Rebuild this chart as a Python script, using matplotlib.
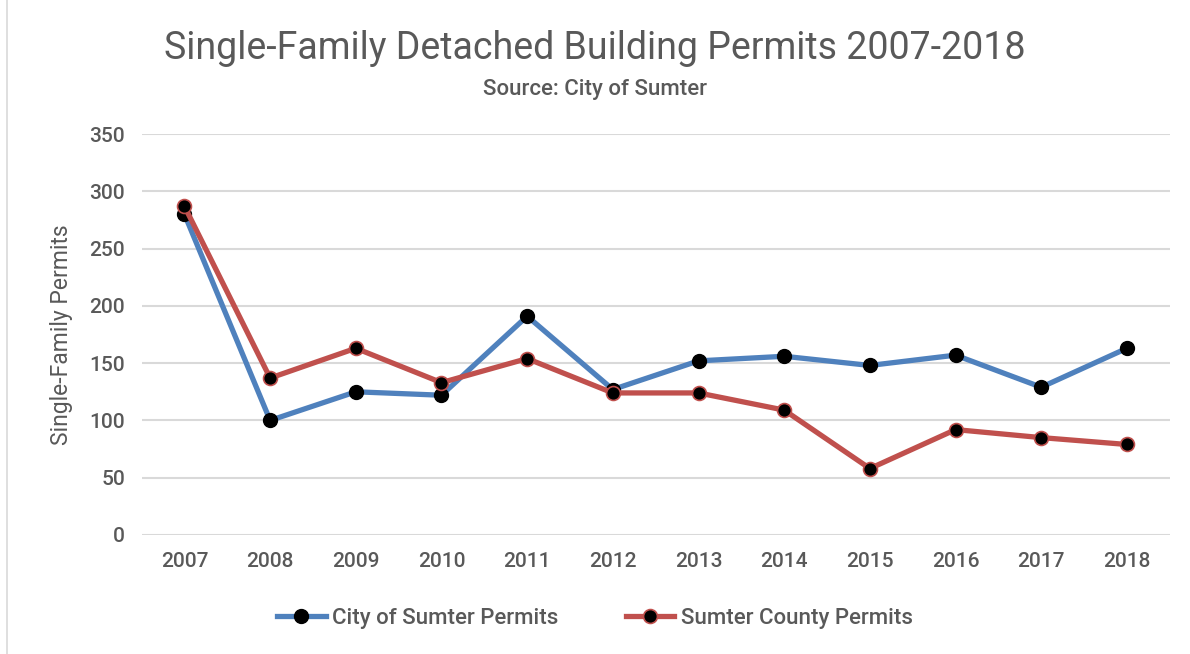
import matplotlib
matplotlib.use('Agg')
from matplotlib import pyplot as plt
from matplotlib.patches import Rectangle

years = ['2007', '2008', '2009', '2010', '2011', '2012',
         '2013', '2014', '2015', '2016', '2017', '2018']
city_permits = [280, 100, 125, 122, 191, 127, 152, 156, 148, 157, 129, 163]
county_permits = [287, 137, 163, 133, 154, 124, 124, 109, 58, 92, 85, 79]
y_ticks = [0, 50, 100, 150, 200, 250, 300, 350]

plt.rcParams['font.family'] = ['Roboto', 'DejaVu Sans']
plt.rcParams['font.weight'] = 'medium'
text_color = '#595959'

fig = plt.figure(figsize=(11.9, 6.54), dpi=100)
ax = fig.add_axes([0.119, 0.182, 0.864, 0.613])

x = range(len(years))
ax.plot(x, city_permits, color='#4F81BD', linewidth=3.8, marker='o',
        markersize=10, markerfacecolor='black', markeredgecolor='black',
        label='City of Sumter Permits', zorder=3)
ax.plot(x, county_permits, color='#C0504D', linewidth=3.8, marker='o',
        markersize=10, markerfacecolor='black', markeredgecolor='#C0504D',
        markeredgewidth=1.2, label='Sumter County Permits', zorder=3)

ax.set_xlim(-0.5, len(years) - 0.5)
ax.set_ylim(0, 350)
ax.set_xticks(list(x))
ax.set_xticklabels(years)
ax.set_yticks(y_ticks)
ax.tick_params(length=0, labelsize=15, colors=text_color, pad=12)
ax.grid(axis='y', color='#D9D9D9', linewidth=1.5)
ax.set_axisbelow(True)
for s in ax.spines.values():
    s.set_visible(False)

ax.set_ylabel('Single-Family Permits', fontsize=16.5, color=text_color,
              labelpad=12, fontweight='normal')

fig.text(0.5, 0.926, 'Single-Family Detached Building Permits 2007-2018',
         ha='center', va='center', fontsize=27, color=text_color,
         fontweight='normal')
fig.text(0.5, 0.863, 'Source: City of Sumter', ha='center', va='center',
         fontsize=16, color=text_color)

fig.legend(loc='center', bbox_to_anchor=(0.5, 0.055), ncol=2, frameon=False,
           fontsize=16, labelcolor=text_color, handlelength=2.2,
           handletextpad=0.3, columnspacing=3.0)

fig.patches.append(Rectangle((0.006, -0.01), 1.1, 1.1, transform=fig.transFigure,
                             fill=False, edgecolor='#D9D9D9', linewidth=1.2))

plt.savefig('out.png', dpi=100)
